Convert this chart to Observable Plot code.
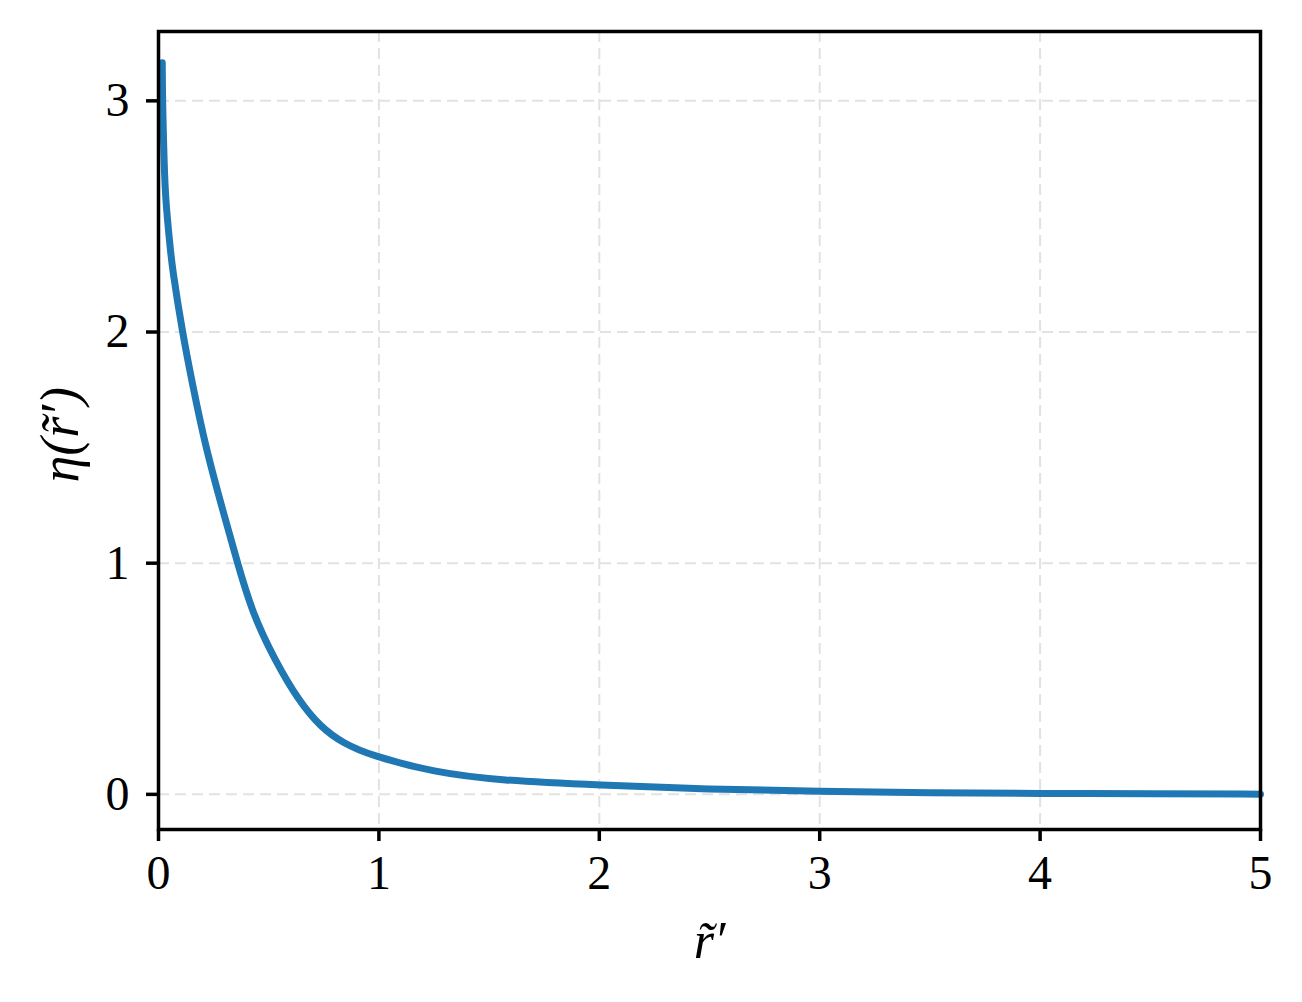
<!DOCTYPE html>
<html><head><meta charset="utf-8">
<script src="https://cdn.jsdelivr.net/npm/d3@7"></script>
<script src="https://cdn.jsdelivr.net/npm/@observablehq/plot@0.6"></script>
<style>body{margin:0;background:#fff;overflow:hidden}</style>
</head><body><div id="chart"></div>
<script>
const rTilde = [0.017, 0.018, 0.026, 0.032, 0.054, 0.062, 0.108, 0.153, 0.213, 0.296, 0.357, 0.425, 0.531, 0.635, 0.735, 0.84, 0.962, 1.25, 1.55, 2.0, 2.5, 3.0, 3.5, 4.0, 4.5, 5.0];
const eta    = [3.165, 3.0, 2.716, 2.571, 2.355, 2.282, 2.0, 1.78, 1.503, 1.214, 1.006, 0.785, 0.575, 0.407, 0.291, 0.22, 0.169, 0.095, 0.06, 0.040, 0.022, 0.013, 0.007, 0.004, 0.002, 0.001];
const xTicks = [0, 1, 2, 3, 4, 5];
const yTicks = [0, 1, 2, 3];
const xLabel = "r\u0303\u2032";
const yLabel = "\u03B7(r\u0303\u2032)";

const data = rTilde.map((r, i) => ({r, eta: eta[i]}));
const font = "Liberation Serif";
const gridStyle = {stroke: "#e2e2e2", strokeOpacity: 1, strokeWidth: 2, strokeDasharray: "11,6"};

const plot = Plot.plot({
  width: 1302, height: 1002,
  marginLeft: 158, marginRight: 42, marginTop: 31, marginBottom: 173,
  style: {fontFamily: font, fontSize: "48px", background: "#fff", color: "#000", overflow: "visible"},
  x: {domain: [0, 5]},
  y: {domain: [-0.152, 3.3]},
  marks: [
    Plot.gridX(xTicks, gridStyle),
    Plot.gridY(yTicks, gridStyle),
    Plot.line(data, {x: "r", y: "eta", stroke: "#1f77b4", strokeWidth: 7, curve: "basis"}),
    Plot.frame({stroke: "#000", strokeWidth: 3.5}),
    Plot.axisX(xTicks, {tickSize: 12, strokeWidth: 3.5, tickPadding: 13, fontSize: 48, label: null, tickFormat: d => String(d)}),
    Plot.axisY(yTicks, {tickSize: 12, strokeWidth: 3.5, tickPadding: 17, fontSize: 48, label: null, tickFormat: d => String(d)}),
    Plot.text([xLabel], {frameAnchor: "bottom", text: d => d, dy: 128, fontSize: 52, fontStyle: "italic", lineAnchor: "bottom"}),
    Plot.text([yLabel], {frameAnchor: "left", text: d => d, rotate: -90, dx: -98, dy: 52, fontSize: 54, fontStyle: "italic"})
  ]
});
document.getElementById("chart").appendChild(plot);
</script>
</body></html>
